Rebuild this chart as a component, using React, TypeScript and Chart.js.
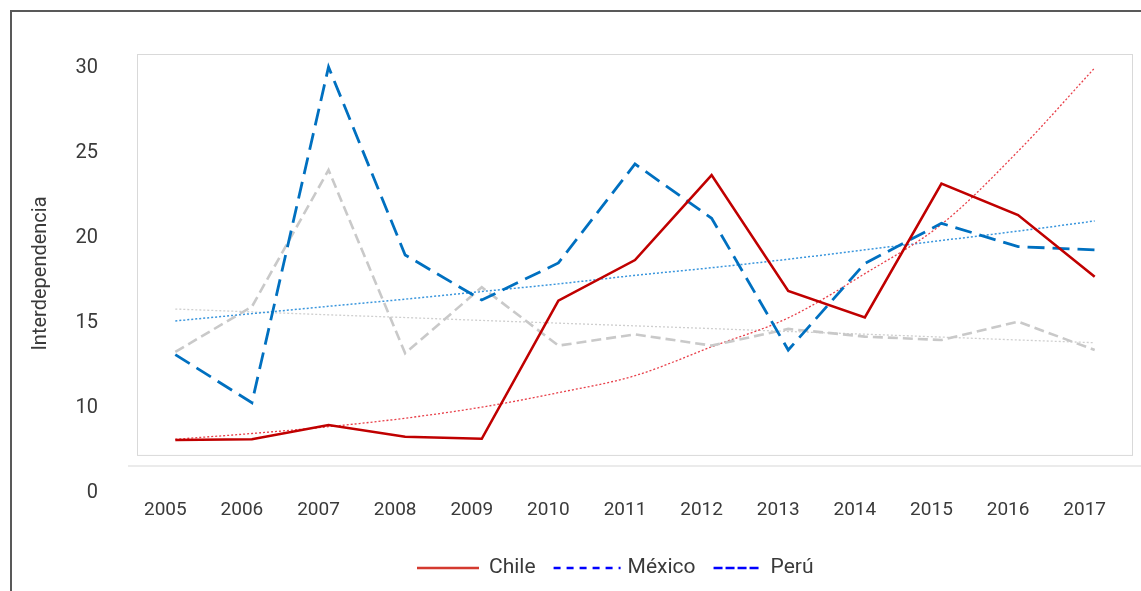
import React, { useEffect, useRef } from "react";
import { Chart, registerables } from "chart.js";

Chart.register(...registerables);

const years = ["2005", "2006", "2007", "2008", "2009", "2010", "2011", "2012", "2013", "2014", "2015", "2016", "2017"];
const chile = [8.12, 8.16, 9.0, 8.31, 8.19, 16.31, 18.7, 23.7, 16.88, 15.33, 23.2, 21.35, 17.72];
const mexico = [13.14, 10.31, 30.06, 19.0, 16.35, 18.53, 24.35, 21.16, 13.41, 18.5, 20.86, 19.49, 19.3];
const peru = [13.3, 15.96, 24.0, 13.22, 17.1, 13.67, 14.33, 13.67, 14.65, 14.2, 14.0, 15.08, 13.41];
const chileTrend = [8.16, 8.5, 8.9, 9.4, 10.05, 10.9, 11.9, 13.6, 15.3, 17.9, 20.8, 25.1, 30.0];
const mexicoTrend = [15.12, 15.55, 15.98, 16.4, 16.85, 17.3, 17.8, 18.25, 18.75, 19.3, 19.85, 20.4, 21.0];
const peruTrend = [15.82, 15.65, 15.48, 15.32, 15.15, 14.99, 14.83, 14.67, 14.5, 14.34, 14.17, 14.0, 13.84];

const yTickValues = [5, 10, 15, 20, 25, 30];
const yTickLabels = ["0", "10", "15", "20", "25", "30"];
const Y_MIN = 5;
const Y_MAX = 30.82;
const BOX_FLOOR = 7.24;
const SEPARATOR_VALUE = 6.59;

const legendItems = [
  { label: "Chile", color: "#D43A2F", dash: [] as number[], sample: 62, gap: 10, after: 18 },
  { label: "México", color: "#0000FF", dash: [7, 6], sample: 67, gap: 7, after: 18 },
  { label: "Perú", color: "#0000FF", dash: [9, 3], sample: 46, gap: 11, after: 0 },
];

const FONT = "Roboto, 'Noto Sans', sans-serif";
const TEXT = "#3A3A3A";

const decorPlugin = {
  id: "decor",
  beforeDraw(chart: any) {
    const ctx = chart.ctx;
    ctx.save();
    ctx.strokeStyle = "#595959";
    ctx.lineWidth = 2;
    ctx.beginPath();
    ctx.moveTo(11, chart.height);
    ctx.lineTo(11, 11);
    ctx.lineTo(chart.width, 11);
    ctx.stroke();
    ctx.restore();
  },
  beforeDatasetsDraw(chart: any) {
    const ctx = chart.ctx;
    const { left, right, top } = chart.chartArea;
    const y = chart.scales.y;
    const bottom = y.getPixelForValue(BOX_FLOOR);
    const sep = y.getPixelForValue(SEPARATOR_VALUE);
    ctx.save();
    ctx.strokeStyle = "#D9D9D9";
    ctx.lineWidth = 1;
    ctx.strokeRect(left + 0.5, top + 0.5, right - left - 1, bottom - top);
    ctx.strokeStyle = "#EBEBEB";
    ctx.lineWidth = 2;
    ctx.beginPath();
    ctx.moveTo(left - 9, sep);
    ctx.lineTo(chart.width, sep);
    ctx.stroke();
    ctx.restore();
  },
  afterDraw(chart: any) {
    const ctx = chart.ctx;
    const cy = 568;
    let x = chart.chartArea.left + 280;
    ctx.save();
    ctx.font = `21px ${FONT}`;
    ctx.textBaseline = "middle";
    ctx.textAlign = "left";
    for (const it of legendItems) {
      ctx.strokeStyle = it.color;
      ctx.lineWidth = 2.5;
      ctx.setLineDash(it.dash);
      ctx.beginPath();
      ctx.moveTo(x, cy);
      ctx.lineTo(x + it.sample, cy);
      ctx.stroke();
      ctx.setLineDash([]);
      x += it.sample + it.gap;
      ctx.fillStyle = TEXT;
      ctx.fillText(it.label, x, cy);
      x += ctx.measureText(it.label).width + it.after;
    }
    ctx.restore();
  },
};

export default function App() {
  const ref = useRef<HTMLCanvasElement | null>(null);
  useEffect(() => {
    if (!ref.current) return;
    const chart = new Chart(ref.current, {
      type: "line",
      data: {
        labels: years,
        datasets: [
          { label: "Chile", data: chile, borderColor: "#C00000", borderWidth: 2.6, pointRadius: 0, tension: 0 },
          { label: "México", data: mexico, borderColor: "#0070C0", borderWidth: 2.8, borderDash: [17, 8], pointRadius: 0, tension: 0 },
          { label: "Perú", data: peru, borderColor: "#C9C9C9", borderWidth: 2.6, borderDash: [10, 5], pointRadius: 0, tension: 0 },
          { label: "Chile tendencia", data: chileTrend, borderColor: "#E8404A", borderWidth: 1.3, borderDash: [2, 2], pointRadius: 0, cubicInterpolationMode: "monotone" },
          { label: "México tendencia", data: mexicoTrend, borderColor: "#3A96DD", borderWidth: 1.5, borderDash: [2, 2], pointRadius: 0, cubicInterpolationMode: "monotone" },
          { label: "Perú tendencia", data: peruTrend, borderColor: "#CFCFCF", borderWidth: 1.3, borderDash: [2, 2], pointRadius: 0, cubicInterpolationMode: "monotone" },
        ],
      },
      options: {
        responsive: false,
        animation: false,
        layout: { padding: { left: 11, right: 8, top: 54, bottom: 58 } },
        plugins: { legend: { display: false }, tooltip: { enabled: false } },
        scales: {
          x: {
            offset: true,
            grid: { display: false, drawTicks: false },
            border: { display: false },
            ticks: { color: TEXT, font: { family: FONT, size: 19 }, padding: 6, labelOffset: -10, maxRotation: 0, autoSkip: false },
            afterFit: (s: any) => { s.height = 40; },
          },
          y: {
            min: Y_MIN,
            max: Y_MAX,
            grid: { display: false, drawTicks: false },
            border: { display: false },
            afterBuildTicks: (s: any) => { s.ticks = yTickValues.map((v) => ({ value: v })); },
            ticks: {
              color: TEXT,
              font: { family: FONT, size: 20 },
              padding: 39,
              callback: (v: any) => { const i = yTickValues.indexOf(Number(v)); return i >= 0 ? yTickLabels[i] : ""; },
            },
            title: { display: true, text: "Interdependencia", color: TEXT, font: { family: FONT, size: 20 }, padding: { top: 18, bottom: 0 } },
            afterFit: (s: any) => { s.width = 126; },
          },
        },
      },
      plugins: [decorPlugin],
    });
    return () => chart.destroy();
  }, []);
  return (
    <div style={{ position: "absolute", left: 0, top: 0, width: 1141, height: 591, background: "#fff" }}>
      <canvas ref={ref} width={1141} height={591} />
    </div>
  );
}
